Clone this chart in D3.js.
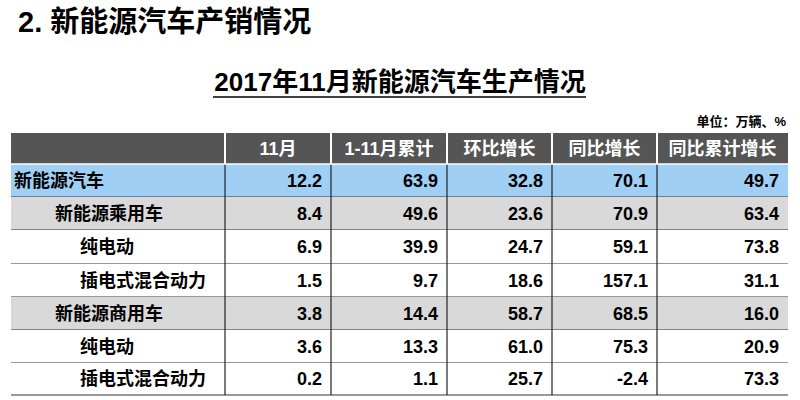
<!DOCTYPE html><html><head><meta charset="utf-8"><script src="https://cdn.jsdelivr.net/npm/d3@7"></script>
<style>body{margin:0;background:#fff}</style></head><body><svg id="c" width="800" height="400"></svg>
<script>
const headers=["","11月","1-11月累计","环比增长","同比增长","同比累计增长"];
const rowLabels=["新能源汽车","新能源乘用车","纯电动","插电式混合动力","新能源商用车","纯电动","插电式混合动力"];
const indent=[0,1,2,2,1,2,2];
const nov=[12.2,8.4,6.9,1.5,3.8,3.6,0.2];
const cum=[63.9,49.6,39.9,9.7,14.4,13.3,1.1];
const mom=[32.8,23.6,24.7,18.6,58.7,61.0,25.7];
const yoy=[70.1,70.9,59.1,157.1,68.5,75.3,-2.4];
const yoyCum=[49.7,63.4,73.8,31.1,16.0,20.9,73.3];
const rowFill=["#9fcff5","#d9d9d9","#fff","#fff","#d9d9d9","#fff","#fff"];
const svg=d3.select("#c");
const F="'Liberation Sans','Noto Sans CJK SC',sans-serif";
svg.append("text").attr("x",18).attr("y",32).attr("font-family",F).attr("font-weight","bold").attr("font-size",29).text("2. 新能源汽车产销情况");
svg.append("text").attr("x",400).attr("y",91).attr("text-anchor","middle").attr("font-family",F).attr("font-weight","bold").attr("font-size",26).text("2017年11月新能源汽车生产情况");
svg.append("line").attr("x1",213).attr("x2",586).attr("y1",97).attr("y2",97).attr("stroke","#000").attr("stroke-width",1.5);
svg.append("text").attr("x",786).attr("y",126).attr("text-anchor","end").attr("font-family",F).attr("font-weight","bold").attr("font-size",13).text("单位：万辆、%");
const colEdges=[11,225,331,447,552,657,788];
const rowEdges=[133,164,197,230,264,297,330,363,395];
const cols=[nov,cum,mom,yoy,yoyCum];
svg.append("rect").attr("x",11).attr("y",rowEdges[0]).attr("width",777).attr("height",rowEdges[1]-rowEdges[0]).attr("fill","#555");
headers.forEach((h,i)=>{if(i>0){svg.append("text").attr("x",(colEdges[i]+colEdges[i+1])/2).attr("y",rowEdges[0]+22).attr("text-anchor","middle").attr("fill","#fff").attr("font-family",F).attr("font-weight","bold").attr("font-size",18).text(h);
svg.append("line").attr("x1",colEdges[i]).attr("x2",colEdges[i]).attr("y1",rowEdges[0]).attr("y2",rowEdges[1]).attr("stroke","#fff").attr("stroke-width",2);}});
rowLabels.forEach((l,r)=>{const y0=rowEdges[r+1],y1=rowEdges[r+2];
svg.append("rect").attr("x",11).attr("y",y0).attr("width",777).attr("height",y1-y0).attr("fill",rowFill[r]);
svg.append("text").attr("x",[14,55,80][indent[r]]).attr("y",(y0+y1)/2+6).attr("font-family",F).attr("font-weight","bold").attr("font-size",18).text(l);
cols.forEach((c,i)=>svg.append("text").attr("x",colEdges[i+2]-9).attr("y",(y0+y1)/2+6).attr("text-anchor","end").attr("font-family",F).attr("font-weight","bold").attr("font-size",18).text(c[r].toFixed(1)));
svg.append("line").attr("x1",11).attr("x2",788).attr("y1",y1).attr("y2",y1).attr("stroke","#333").attr("stroke-width",1.2);
for(let i=1;i<6;i++)svg.append("line").attr("x1",colEdges[i]).attr("x2",colEdges[i]).attr("y1",y0).attr("y2",y1).attr("stroke","#222").attr("stroke-width",1.2);});
svg.append("line").attr("x1",11).attr("x2",788).attr("y1",rowEdges[1]).attr("y2",rowEdges[1]).attr("stroke","#fff").attr("stroke-width",1.5);
</script></body></html>
